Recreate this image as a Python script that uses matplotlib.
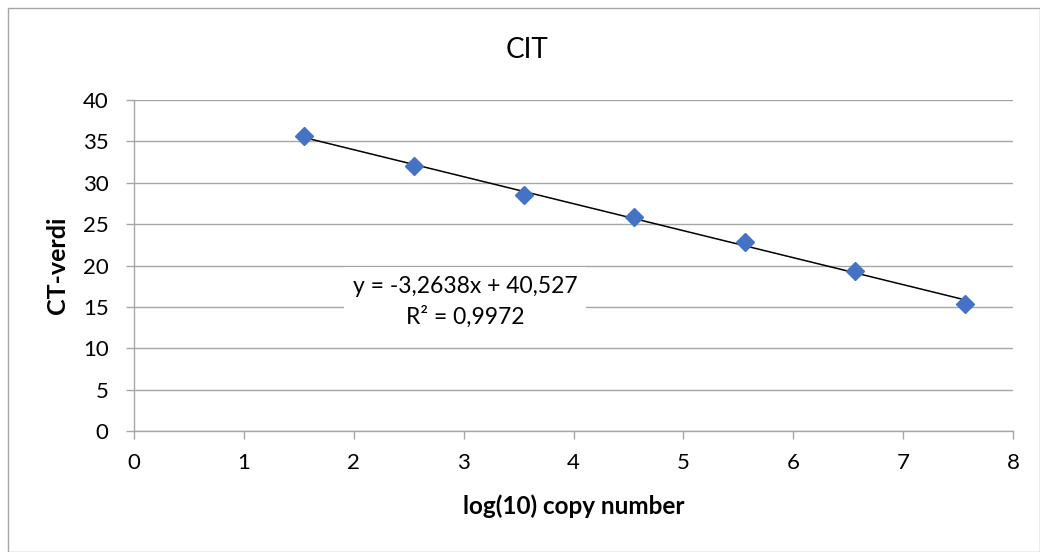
import matplotlib
matplotlib.use("Agg")
import matplotlib.pyplot as plt
from matplotlib.patches import Rectangle
import numpy as np

# standard curve for the CIT assay
log_copies = [1.55, 2.55, 3.55, 4.55, 5.56, 6.56, 7.56]
ct_values = [35.6, 32.0, 28.5, 25.9, 22.9, 19.3, 15.4]

# linear trendline as reported
slope = -3.2638
intercept = 40.527
r_squared = 0.9972

x_ticks = [0, 1, 2, 3, 4, 5, 6, 7, 8]
y_ticks = [0, 5, 10, 15, 20, 25, 30, 35, 40]

plt.rcParams["font.family"] = ["Lato", "DejaVu Sans"]
GRID = "#a6a6a6"
BLUE = "#4472c4"

fig = plt.figure(figsize=(10.4, 5.52), dpi=100)
ax = fig.add_axes([0.1286, 0.2192, 0.8457, 0.5996])

ax.set_xlim(0, 8)
ax.set_ylim(0, 40)
ax.set_xticks(x_ticks)
ax.set_yticks(y_ticks)
ax.yaxis.grid(True, color=GRID, linewidth=1.0)
ax.set_axisbelow(True)

for side in ("top", "right"):
    ax.spines[side].set_visible(False)
for side in ("left", "bottom"):
    ax.spines[side].set_color(GRID)
    ax.spines[side].set_linewidth(1.0)

ax.tick_params(axis="both", direction="out", length=6, width=1.0,
               color=GRID, labelsize=16, labelcolor="black")
ax.tick_params(axis="x", pad=10)
ax.tick_params(axis="y", pad=12)

# fitted line across the measured range
xs = np.array([min(log_copies), max(log_copies)])
ax.plot(xs, slope * xs + intercept, color="black", linewidth=1.1, zorder=3)
ax.plot(log_copies, ct_values, linestyle="none", marker="D", markersize=9.5,
        color=BLUE, zorder=4)

# equation label; the baseline anchor sits on the R² line
eq = f"y = {slope:.4f}x + {intercept:.3f}".replace(".", ",")
r2 = f"R² = {r_squared:.4f}".replace(".", ",")
ax.text(3.013, 12.93, eq + "\n" + r2, ha="center", va="baseline",
        multialignment="center", fontsize=16.5, linespacing=1.5,
        bbox=dict(boxstyle="square,pad=0.4", fc="white", ec="none"),
        zorder=2)

fig.text(0.5065, 1 - 58 / 552, "CIT", ha="center", va="baseline", fontsize=20)
fig.text(0.5514, 1 - 514 / 552, "log(10) copy number", ha="center",
         va="baseline", fontsize=17.5, fontweight="bold")
fig.text(57.5 / 1040, 0.519, "CT-verdi", ha="center", va="center",
         rotation=90, fontsize=18, fontweight="bold")

# chart area border, inset on the left and top only
fig.patches.append(Rectangle((7.5 / 1040, 0.5 / 552), 1032 / 1040, 544 / 552,
                             transform=fig.transFigure, fill=False,
                             edgecolor="#a6a6a6", linewidth=1.0))

fig.savefig("out.png", dpi=100)
